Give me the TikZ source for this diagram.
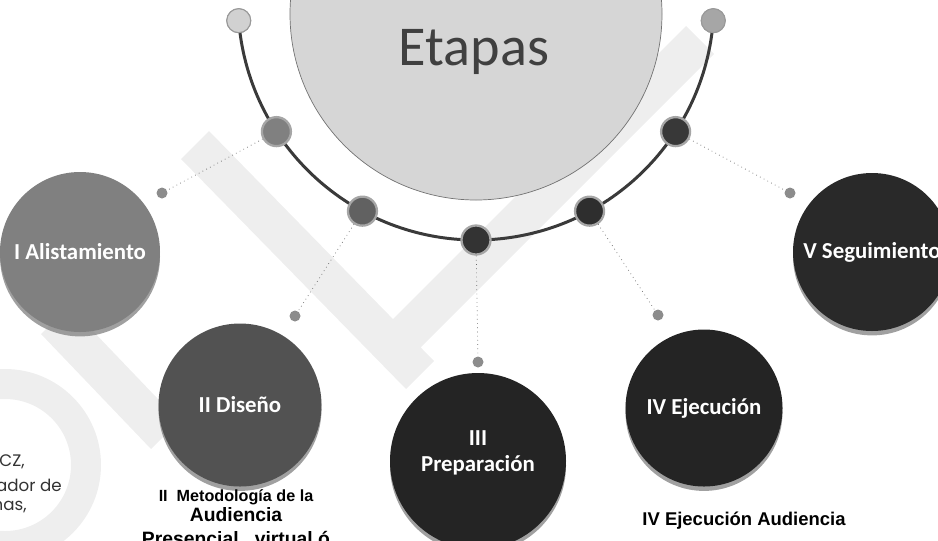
\documentclass[tikz,border=0pt]{standalone}
\usepackage{fontspec}
\setmainfont{Carlito}
\newfontfamily\arialfont{Liberation Sans}
\newfontfamily\gothicfont{Poppins}
\usetikzlibrary{positioning,shadows}

\definecolor{wmgray}{HTML}{EEEEEE}
\definecolor{bigfill}{HTML}{D6D6D6}
\definecolor{arcgray}{HTML}{3A3A3A}

\begin{document}
\begin{tikzpicture}[
  x=0.2mm, y=-0.2mm,
  bigcircle/.style={circle, minimum size=7.44cm, inner sep=0pt, fill=bigfill, draw=black!55, line width=0.4pt},
  etapa/.style={circle, minimum size=#1, inner sep=0pt, align=center, text=white, font=\bfseries\fontsize{13}{15}\selectfont, drop shadow={shadow xshift=0pt, shadow yshift=-2.5pt, opacity=.75}},
  tipdot/.style={circle, minimum size=0.48cm, inner sep=0pt, fill=#1, draw=black!40, line width=0.6pt},
  stagedot/.style={circle, minimum size=0.58cm, inner sep=0pt, fill=#1, draw=black!35, line width=1.3pt},
  enddot/.style={circle, minimum size=0.22cm, inner sep=0pt, fill=black!45},
  link/.style={dotted, thin, black!60},
  arcline/.style={line width=1.7pt, arcgray},
  caption/.style={font=\arialfont\bfseries, align=center, inner sep=0pt},
  lefttext/.style={anchor=east, font=\gothicfont\fontsize{9.5}{11}\selectfont, text=black!80, inner sep=0pt},
  wm/.style={fill=wmgray}
]
\clip (0,0) rectangle (938,540);

% watermark
\fill[wm] (209,131) -- (434,361) -- (406,389) -- (181,159) -- cycle;
\fill[wm] (69,306) -- (179,421) -- (151,449) -- (41,334) -- cycle;
\fill[wm] (404,364) -- (714,54) -- (686,26) -- (376,336) -- cycle;
\fill[wm, even odd rule] (5,465) circle (96) (5,465) circle (66);

% centre
\node[bigcircle] (etapas) at (476,14) {};
\node[font=\fontsize{32}{36}\selectfont, text=black!75] (etapaslbl) at (474,52) {Etapas};

% arc with dots
\coordinate (C) at (476,2);
\path (C) ++(175.5:238) node[tipdot=black!18] (pL) {};
\path (C) ++(4.5:238) node[tipdot=black!35] (pR) {};
\draw[arcline] (pL.center) arc[start angle=175.5, end angle=4.5, radius=238];
\path (C) ++(175.5:238) node[tipdot=black!18] {};
\path (C) ++(4.5:238) node[tipdot=black!35] {};
\path (C) ++(147:238) node[stagedot=black!50] (p1) {};
\path (C) ++(118.5:238) node[stagedot=black!62] (p2) {};
\path (C) ++(90:238) node[stagedot=black!80] (p3) {};
\path (C) ++(61.5:238) node[stagedot=black!82] (p4) {};
\path (C) ++(33:238) node[stagedot=black!78] (p5) {};

% stages
\node[etapa=3.2cm, fill=black!50] (alist) at (80,252) {I Alistamiento};
\node[etapa=3.26cm, fill=black!68] (diseno) at (240,405) {II Diseño};
\node[etapa=3.52cm, fill=black!86] (prep) at (478,461) {III\\Preparación\\[-4pt]\mbox{}};
\node[etapa=3.14cm, fill=black!86] (ejec) at (704,408) {IV Ejecución};
\node[etapa=3.16cm, fill=black!84] (segui) at (872,252) {V Seguimiento};

% connector ends
\node[enddot] (q1) at (162,193) {};
\node[enddot] (q2) at (295,316) {};
\node[enddot] (q3) at (478,362) {};
\node[enddot] (q4) at (658,315) {};
\node[enddot] (q5) at (790,193) {};

\draw[link] (p1) -- (q1);
\draw[link] (p2) -- (q2);
\draw[link] (p3) -- (q3);
\draw[link] (p4) -- (q4);
\draw[link] (p5) -- (q5);

% captions
\node[caption, font=\arialfont\bfseries\fontsize{9.2}{10}\selectfont] (metod) at (236,497) {II\ \ Metodología de la};
\node[caption, font=\arialfont\bfseries\fontsize{11}{12}\selectfont] (metodaud) at (236,515) {Audiencia};
\node[caption, font=\arialfont\bfseries\fontsize{11}{12}\selectfont] (metodpres) at (236,540) {Presencial , virtual ó};
\node[caption, font=\arialfont\bfseries\fontsize{10.5}{12}\selectfont] (ejecaud) at (744,521) {IV Ejecución Audiencia};

% cut text on the left
\node[lefttext] (txta) at (25,462) {CZ,};
\node[lefttext] (txtb) at (62,485) {ador de};
\node[lefttext] (txtc) at (27,507) {nas,};

\end{tikzpicture}
\end{document}
